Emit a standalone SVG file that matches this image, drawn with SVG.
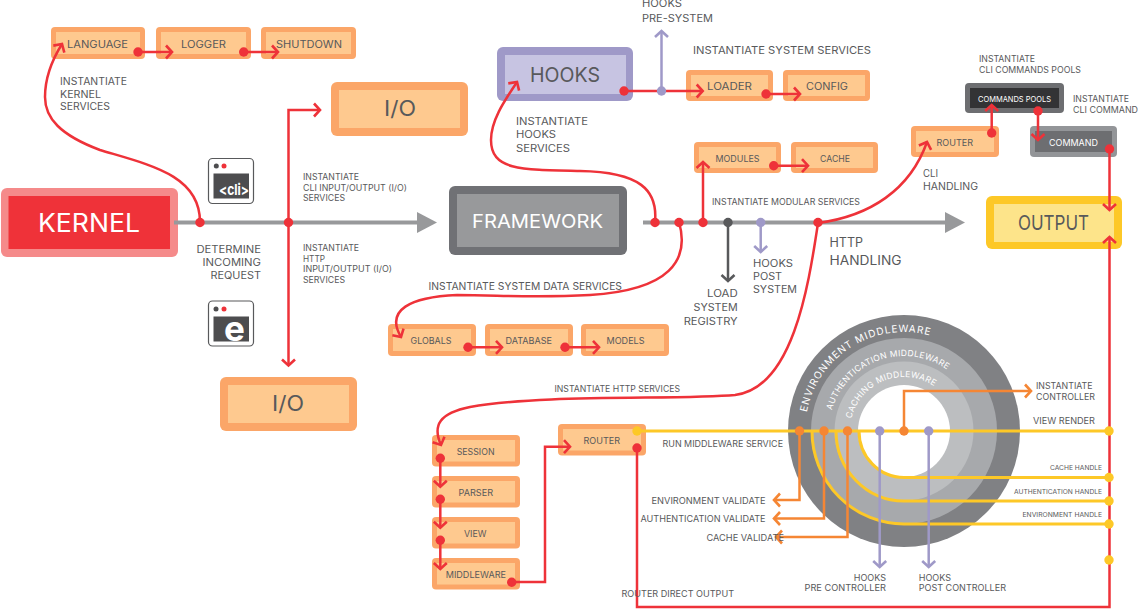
<svg xmlns="http://www.w3.org/2000/svg" width="1138" height="609" viewBox="0 0 1138 609">
<style>
text{font-family:"Inter","Liberation Sans",sans-serif;fill:#58595b;font-weight:400}
.s{font-size:10px}.m{font-size:8.500px}.x{font-size:6.600px}.b{font-size:10.500px}
.w{fill:#fff}
.o1{fill:#fba668}.o2{fill:#fec98f}
.main{fill:none;stroke:#98999b;stroke-width:4}
.r,.or,.pu,.dk,.ye{fill:none;stroke-width:2.5}
.r{stroke:#ee3239}.or{stroke:#f58634}.pu{stroke:#9f99c8}.dk{stroke:#58595b}.ye{stroke:#fdc827;stroke-width:3}
.mr{marker-end:url(#ar)}.mo{marker-end:url(#ao)}.mp{marker-end:url(#ap)}.md{marker-end:url(#ad)}
.dr{fill:#ee3239}.dy{fill:#fdc827}.dp{fill:#9f99c8}.dd{fill:#58595b}.do{fill:#f58634}
.arc{fill:#fff;font-size:10px}
</style>
<defs>
<marker id="ar" markerUnits="userSpaceOnUse" markerWidth="20" markerHeight="20" refX="10" refY="10" orient="auto" overflow="visible"><path d="M4,3.500L10,10L4,16.500" fill="none" stroke="#ee3239" stroke-width="2.600"/></marker>
<marker id="ao" markerUnits="userSpaceOnUse" markerWidth="20" markerHeight="20" refX="10" refY="10" orient="auto" overflow="visible"><path d="M4,3.500L10,10L4,16.500" fill="none" stroke="#f58634" stroke-width="2.600"/></marker>
<marker id="ap" markerUnits="userSpaceOnUse" markerWidth="20" markerHeight="20" refX="10" refY="10" orient="auto" overflow="visible"><path d="M4,3.500L10,10L4,16.500" fill="none" stroke="#9f99c8" stroke-width="2.600"/></marker>
<marker id="ad" markerUnits="userSpaceOnUse" markerWidth="20" markerHeight="20" refX="10" refY="10" orient="auto" overflow="visible"><path d="M4,3.500L10,10L4,16.500" fill="none" stroke="#58595b" stroke-width="2.600"/></marker>
<path id="pe" d="M805,431A99,99 0 1 1 1003,431"/>
<path id="pa" d="M829,431A75,75 0 1 1 979,431"/>
<path id="pc" d="M850,431A54,54 0 1 1 958,431"/>
</defs>

<g id="middleware-rings">
<circle cx="904" cy="431" r="116" fill="#808184"/>
<circle cx="904" cy="431" r="93" fill="#a7a9ac"/>
<circle cx="904" cy="431" r="69.500" fill="#bcbec0"/>
<circle cx="904" cy="431" r="46" fill="#fff"/>
<text class="arc" letter-spacing="0.900"><textPath href="#pe" startOffset="19">ENVIRONMENT MIDDLEWARE</textPath></text>
<text class="arc" style="font-size:8.500px" letter-spacing="0.350"><textPath href="#pa" startOffset="21">AUTHENTICATION MIDDLEWARE</textPath></text>
<text class="arc" style="font-size:8.500px" letter-spacing="0.350"><textPath href="#pc" startOffset="12.500">CACHING MIDDLEWARE</textPath></text>
</g>

<g id="kernel"><rect x="1" y="188" width="177" height="69" rx="6" fill="#f58a8a"/><rect x="8.500" y="196" width="161.500" height="53" fill="#ef3239"/><text x="38" y="232" class="w" style="font-size:25px" textLength="102" lengthAdjust="spacingAndGlyphs">KERNEL</text></g>
<g id="language"><rect class="o1" x="51" y="27" width="94" height="32" rx="4"/><rect class="o2" x="56" y="32" width="84" height="22"/><text class="s" x="67" y="48" textLength="61" lengthAdjust="spacingAndGlyphs">LANGUAGE</text></g>
<g id="logger"><rect class="o1" x="156" y="27" width="95" height="32" rx="4"/><rect class="o2" x="161" y="32" width="85" height="22"/><text class="s" x="181" y="48" textLength="45" lengthAdjust="spacingAndGlyphs">LOGGER</text></g>
<g id="shutdown"><rect class="o1" x="261" y="27" width="95" height="32" rx="4"/><rect class="o2" x="266" y="32" width="85" height="22"/><text class="s" x="276" y="48" textLength="66" lengthAdjust="spacingAndGlyphs">SHUTDOWN</text></g>
<g id="io-top"><rect class="o1" x="331" y="82" width="137" height="54" rx="6"/><rect class="o2" x="339" y="90" width="121" height="38"/><text x="384" y="116" style="font-size:21px" textLength="32" lengthAdjust="spacingAndGlyphs">I/O</text></g>
<g id="io-bottom"><rect class="o1" x="220" y="377" width="137" height="54" rx="6"/><rect class="o2" x="228" y="385" width="121" height="38"/><text x="272" y="410.500" style="font-size:21px" textLength="32" lengthAdjust="spacingAndGlyphs">I/O</text></g>
<g id="framework"><rect x="449" y="186" width="178" height="69" rx="6" fill="#707175"/><rect x="457" y="194" width="162" height="53" fill="#98999b"/><text x="472" y="228" class="w" style="font-size:19px" textLength="131" lengthAdjust="spacingAndGlyphs">FRAMEWORK</text></g>
<g id="hooks"><rect x="497" y="47" width="136" height="54" rx="6" fill="#9f99c8"/><rect x="505" y="55" width="121" height="39" fill="#c7c4e2"/><text x="530" y="82" style="font-size:20px" textLength="70" lengthAdjust="spacingAndGlyphs">HOOKS</text></g>
<g id="loader"><rect class="o1" x="686" y="70" width="87" height="31" rx="4"/><rect class="o2" x="691" y="75" width="77" height="21"/><text class="s" x="707" y="90" textLength="45" lengthAdjust="spacingAndGlyphs">LOADER</text></g>
<g id="config"><rect class="o1" x="783" y="70" width="87" height="31" rx="4"/><rect class="o2" x="788" y="75" width="77" height="21"/><text class="s" x="806" y="90" textLength="42" lengthAdjust="spacingAndGlyphs">CONFIG</text></g>
<g id="modules"><rect class="o1" x="694" y="142" width="87" height="31" rx="4"/><rect class="o2" x="699" y="147" width="77" height="21"/><text class="m" x="715.500" y="162" textLength="44" lengthAdjust="spacingAndGlyphs">MODULES</text></g>
<g id="cache"><rect class="o1" x="791" y="142" width="87" height="31" rx="4"/><rect class="o2" x="796" y="147" width="77" height="21"/><text class="m" x="820" y="162" textLength="30" lengthAdjust="spacingAndGlyphs">CACHE</text></g>
<g id="router-cli"><rect class="o1" x="911" y="126" width="88" height="31" rx="4"/><rect class="o2" x="916" y="131" width="78" height="21"/><text class="m" x="936.500" y="146" textLength="36.500" lengthAdjust="spacingAndGlyphs">ROUTER</text></g>
<g id="commands-pools"><rect x="965" y="83" width="99" height="30" rx="4" fill="#6d6e71"/><rect x="970" y="88" width="89" height="20" fill="#333335"/><text class="w m" x="978" y="102" style="font-size:8px" textLength="73" lengthAdjust="spacingAndGlyphs">COMMANDS POOLS</text></g>
<g id="command"><rect x="1030" y="126" width="87" height="31" rx="4" fill="#939598"/><rect x="1035" y="131" width="77" height="21" fill="#6d6e71"/><text class="w m" x="1049" y="146" textLength="49" lengthAdjust="spacingAndGlyphs">COMMAND</text></g>
<g id="output"><rect x="986" y="196" width="136" height="53" rx="6" fill="#fdc827"/><rect x="994" y="204" width="120" height="38" fill="#fde48a"/><text x="1018" y="230" style="font-size:20px" textLength="71" lengthAdjust="spacingAndGlyphs">OUTPUT</text></g>
<g id="globals"><rect class="o1" x="388" y="324" width="88" height="32" rx="4"/><rect class="o2" x="393" y="329" width="78" height="22"/><text class="m" x="410.500" y="344" textLength="41" lengthAdjust="spacingAndGlyphs">GLOBALS</text></g>
<g id="database"><rect class="o1" x="485" y="324" width="88" height="32" rx="4"/><rect class="o2" x="490" y="329" width="78" height="22"/><text class="m" x="505.500" y="344" textLength="46.500" lengthAdjust="spacingAndGlyphs">DATABASE</text></g>
<g id="models"><rect class="o1" x="581" y="324" width="88" height="32" rx="4"/><rect class="o2" x="586" y="329" width="78" height="22"/><text class="m" x="606.500" y="344" textLength="38" lengthAdjust="spacingAndGlyphs">MODELS</text></g>
<g id="session"><rect class="o1" x="432" y="435" width="88" height="31.500" rx="4"/><rect class="o2" x="437" y="440" width="78" height="21.500"/><text class="m" x="456.700" y="455" textLength="37.800" lengthAdjust="spacingAndGlyphs">SESSION</text></g>
<g id="parser"><rect class="o1" x="432" y="476" width="88" height="31.500" rx="4"/><rect class="o2" x="437" y="481" width="78" height="21.500"/><text class="m" x="458.500" y="496" textLength="34.500" lengthAdjust="spacingAndGlyphs">PARSER</text></g>
<g id="view"><rect class="o1" x="432" y="517" width="88" height="31.500" rx="4"/><rect class="o2" x="437" y="522" width="78" height="21.500"/><text class="m" x="464" y="537" textLength="22.500" lengthAdjust="spacingAndGlyphs">VIEW</text></g>
<g id="middleware"><rect class="o1" x="432" y="558" width="88" height="31.500" rx="4"/><rect class="o2" x="437" y="563" width="78" height="21.500"/><text class="m" x="445.700" y="578" textLength="60.300" lengthAdjust="spacingAndGlyphs">MIDDLEWARE</text></g>
<g id="router-http"><rect class="o1" x="558" y="424" width="88" height="31.500" rx="4"/><rect class="o2" x="563" y="429" width="78" height="21.500"/><text class="m" x="583.500" y="444" textLength="36.500" lengthAdjust="spacingAndGlyphs">ROUTER</text></g>

<g id="icon-cli"><rect x="208.500" y="158.500" width="45" height="45" rx="4" fill="#fff" stroke="#58595b" stroke-width="1.200"/><circle cx="216.300" cy="166" r="2.500" fill="#4d4d4f"/><circle cx="224" cy="166" r="2.500" fill="#ee3239"/><rect x="213.500" y="173.500" width="35.500" height="25" fill="#4d4d4f"/><text x="219" y="195" class="w" style="font-size:15px;font-weight:700" textLength="30" lengthAdjust="spacingAndGlyphs">&lt;cli&gt;</text></g>
<g id="icon-e"><rect x="208.500" y="301" width="45" height="45" rx="4" fill="#fff" stroke="#58595b" stroke-width="1.200"/><circle cx="216" cy="309" r="2.500" fill="#4d4d4f"/><circle cx="224" cy="309" r="2.500" fill="#ee3239"/><rect x="213.500" y="316.500" width="35.500" height="25" fill="#4d4d4f"/><text x="224" y="341" class="w" style="font-size:35px;font-weight:700">e</text></g>

<g id="connectors">
<path class="main" d="M174,222.500H420"/><path d="M417,212L437,222.500L417,233Z" fill="#98999b"/>
<path class="main" d="M643,222.500H948"/><path d="M945,212L965,222.500L945,233Z" fill="#98999b"/>
<path class="r mr" d="M200,222C200,175 150,165 100,150C60,135 45,118 45,97C45,78 52,60 62,44"/>
<path class="r mr" d="M138,52H172"/><path class="r mr" d="M243.700,52H278"/>
<path class="r mr" d="M288.500,222.500V110H320"/><path class="r mr" d="M288.500,222.500V365.500"/>
<path class="r mr" d="M655,222C658,190 640,172 580,171C520,170 491,170 491,140C491,120 505,100 517,82"/>
<path class="r mr" d="M624,91H702.700"/><path class="pu mp" d="M661.500,91V31"/>
<path class="r mr" d="M766,94H800"/>
<path class="r mr" d="M703,222.500V162"/><path class="r mr" d="M773.700,165.700H808"/>
<path class="r mr" d="M679,222C690,260 670,290 590,295C530,298 500,295 457,295C410,297 385,310 401,337"/>
<path class="r mr" d="M468,347.300H502"/><path class="r mr" d="M565,347.300H599"/>
<path class="dk md" d="M728,222.500V281"/><path class="pu mp" d="M760.700,222.500V252"/>
<path class="r mr" d="M818,223C870,216 910,190 927,142"/>
<path class="r mr" d="M991.700,133V105"/><path class="r mr" d="M1038,111V140"/>
<path class="r mr" d="M1109.500,149V210"/>
<path class="r mr" d="M637,448V607H1109.500V237"/>
<path class="r mr" d="M818,223C808,290 792,388 735,395C680,400 540,394 470,407C440,413 432,425 441,445"/>
<path class="r mr" d="M440.300,458.300V486.700"/><path class="r mr" d="M440.300,499.300V527.700"/><path class="r mr" d="M440.300,540.300V569"/>
<path class="r mr" d="M511.700,582H545V446.700H570"/>
<path class="ye" d="M637,431H1109"/>
<path class="ye" d="M859,431A45,46.500 0 0 0 904,477.500H1109"/>
<path class="ye" d="M836,431A68,70 0 0 0 904,501H1109"/>
<path class="ye" d="M812,431A92,93 0 0 0 904,524H1109"/>
<path class="or mo" d="M904,431V391H1031"/>
<path class="or mo" d="M799.500,431V500H774"/><path class="or mo" d="M824,431V518.500H774"/><path class="or mo" d="M847.500,431V537H776"/>
<path class="pu mp" d="M879.700,431V567"/><path class="pu mp" d="M928.700,431V567"/>
</g>

<g id="dots">
<g class="dr"><circle cx="200" cy="222.500" r="4.700"/><circle cx="288.500" cy="222.500" r="4.700"/><circle cx="138" cy="52" r="4.700"/><circle cx="243.700" cy="52" r="4.700"/><circle cx="624" cy="91" r="4.700"/><circle cx="766" cy="94" r="4.700"/><circle cx="655" cy="222.500" r="4.700"/><circle cx="679" cy="222.500" r="4.700"/><circle cx="703" cy="222.500" r="4.700"/><circle cx="818" cy="222.500" r="4.700"/><circle cx="773.700" cy="165.700" r="4.700"/><circle cx="991.700" cy="133" r="4.700"/><circle cx="1038" cy="111" r="4.700"/><circle cx="1109.500" cy="149" r="4.700"/><circle cx="468" cy="347.300" r="4.700"/><circle cx="565" cy="347.300" r="4.700"/><circle cx="440.300" cy="458.300" r="4.700"/><circle cx="440.300" cy="499.300" r="4.700"/><circle cx="440.300" cy="540.300" r="4.700"/><circle cx="511.700" cy="582.300" r="4.700"/><circle cx="637" cy="448" r="4.700"/></g>
<g class="dy"><circle cx="637" cy="431" r="4.700"/><circle cx="1109" cy="431" r="4.700"/><circle cx="1109" cy="477.500" r="4.700"/><circle cx="1109" cy="501" r="4.700"/><circle cx="1109" cy="524" r="4.700"/><circle cx="1109" cy="560" r="4.700"/></g>
<g class="do"><circle cx="799.500" cy="431" r="4.700"/><circle cx="824" cy="431" r="4.700"/><circle cx="847.500" cy="431" r="4.700"/><circle cx="904" cy="431" r="4.700"/></g>
<g class="dp"><circle cx="661.500" cy="91" r="4.700"/><circle cx="760.700" cy="222.500" r="4.700"/><circle cx="879.700" cy="431" r="4.700"/><circle cx="928.700" cy="431" r="4.700"/></g>
<circle class="dd" cx="728" cy="222.500" r="4.700"/>
</g>

<g id="labels">
<text class="s" x="60" y="85" textLength="67" lengthAdjust="spacingAndGlyphs">INSTANTIATE</text>
<text class="s" x="60" y="98" textLength="41" lengthAdjust="spacingAndGlyphs">KERNEL</text>
<text class="s" x="60" y="110" textLength="50" lengthAdjust="spacingAndGlyphs">SERVICES</text>
<text class="m" x="303" y="180" textLength="56" lengthAdjust="spacingAndGlyphs">INSTANTIATE</text>
<text class="m" x="303" y="191" textLength="104" lengthAdjust="spacingAndGlyphs">CLI INPUT/OUTPUT (I/O)</text>
<text class="m" x="303" y="201" textLength="42" lengthAdjust="spacingAndGlyphs">SERVICES</text>
<text class="s" x="196.500" y="253" textLength="64.500" lengthAdjust="spacingAndGlyphs">DETERMINE</text>
<text class="s" x="202.500" y="266" textLength="58.500" lengthAdjust="spacingAndGlyphs">INCOMING</text>
<text class="s" x="210.500" y="279" textLength="50.500" lengthAdjust="spacingAndGlyphs">REQUEST</text>
<text class="m" x="303" y="251" textLength="56" lengthAdjust="spacingAndGlyphs">INSTANTIATE</text>
<text class="m" x="303" y="262" textLength="22" lengthAdjust="spacingAndGlyphs">HTTP</text>
<text class="m" x="303" y="272" textLength="89" lengthAdjust="spacingAndGlyphs">INPUT/OUTPUT (I/O)</text>
<text class="m" x="303" y="283" textLength="42" lengthAdjust="spacingAndGlyphs">SERVICES</text>
<text class="s" x="516" y="124.500" textLength="72" lengthAdjust="spacingAndGlyphs">INSTANTIATE</text>
<text class="s" x="516" y="137.700" textLength="40" lengthAdjust="spacingAndGlyphs">HOOKS</text>
<text class="s" x="516" y="151.700" textLength="54" lengthAdjust="spacingAndGlyphs">SERVICES</text>
<text class="s" x="642" y="7" textLength="40" lengthAdjust="spacingAndGlyphs">HOOKS</text>
<text class="s" x="642" y="21.700" textLength="71" lengthAdjust="spacingAndGlyphs">PRE-SYSTEM</text>
<text class="b" x="693" y="53.500" textLength="178" lengthAdjust="spacingAndGlyphs">INSTANTIATE SYSTEM SERVICES</text>
<text class="m" x="712" y="204.500" textLength="148" lengthAdjust="spacingAndGlyphs">INSTANTIATE MODULAR SERVICES</text>
<text class="m" x="979" y="62" textLength="56" lengthAdjust="spacingAndGlyphs">INSTANTIATE</text>
<text class="m" x="979" y="73" textLength="102" lengthAdjust="spacingAndGlyphs">CLI COMMANDS POOLS</text>
<text class="m" x="1073" y="102" textLength="56" lengthAdjust="spacingAndGlyphs">INSTANTIATE</text>
<text class="m" x="1073" y="113" textLength="65" lengthAdjust="spacingAndGlyphs">CLI COMMAND</text>
<text class="s" x="923" y="176.700" textLength="15" lengthAdjust="spacingAndGlyphs">CLI</text>
<text class="s" x="923" y="190" textLength="55" lengthAdjust="spacingAndGlyphs">HANDLING</text>
<text class="b" x="829.500" y="247" style="font-size:12.500px" textLength="33.500" lengthAdjust="spacingAndGlyphs">HTTP</text>
<text class="b" x="829.500" y="264.500" style="font-size:12.500px" textLength="72" lengthAdjust="spacingAndGlyphs">HANDLING</text>
<text class="s" x="707" y="297" textLength="30.700" lengthAdjust="spacingAndGlyphs">LOAD</text>
<text class="s" x="693.500" y="311" textLength="44.200" lengthAdjust="spacingAndGlyphs">SYSTEM</text>
<text class="s" x="683.700" y="324.500" textLength="54" lengthAdjust="spacingAndGlyphs">REGISTRY</text>
<text class="s" x="753" y="266.700" textLength="40" lengthAdjust="spacingAndGlyphs">HOOKS</text>
<text class="s" x="753" y="280" textLength="29" lengthAdjust="spacingAndGlyphs">POST</text>
<text class="s" x="753" y="293" textLength="44" lengthAdjust="spacingAndGlyphs">SYSTEM</text>
<text class="b" x="428.500" y="290" textLength="193.500" lengthAdjust="spacingAndGlyphs">INSTANTIATE SYSTEM DATA SERVICES</text>
<text class="m" x="554.500" y="392.300" textLength="125.500" lengthAdjust="spacingAndGlyphs">INSTANTIATE HTTP SERVICES</text>
<text class="m" x="662.500" y="447" textLength="120.500" lengthAdjust="spacingAndGlyphs">RUN MIDDLEWARE SERVICE</text>
<text class="m" x="651.500" y="504" style="font-size:9px" textLength="114" lengthAdjust="spacingAndGlyphs">ENVIRONMENT VALIDATE</text>
<text class="m" x="640.500" y="522" style="font-size:9px" textLength="125" lengthAdjust="spacingAndGlyphs">AUTHENTICATION VALIDATE</text>
<text class="m" x="706.500" y="541" style="font-size:9px" textLength="77.500" lengthAdjust="spacingAndGlyphs">CACHE VALIDATE</text>
<text class="m" x="621.500" y="597" textLength="112.500" lengthAdjust="spacingAndGlyphs">ROUTER DIRECT OUTPUT</text>
<text class="m" x="1036" y="389" textLength="56.500" lengthAdjust="spacingAndGlyphs">INSTANTIATE</text>
<text class="m" x="1036" y="400" textLength="59" lengthAdjust="spacingAndGlyphs">CONTROLLER</text>
<text class="m" x="1033" y="423.500" textLength="62" lengthAdjust="spacingAndGlyphs">VIEW RENDER</text>
<text class="x" x="1050" y="470" textLength="52" lengthAdjust="spacingAndGlyphs">CACHE HANDLE</text>
<text class="x" x="1014" y="494" textLength="88" lengthAdjust="spacingAndGlyphs">AUTHENTICATION HANDLE</text>
<text class="x" x="1022.500" y="517" textLength="79.500" lengthAdjust="spacingAndGlyphs">ENVIRONMENT HANDLE</text>
<text class="m" x="853.700" y="581" textLength="32.300" lengthAdjust="spacingAndGlyphs">HOOKS</text>
<text class="m" x="804.500" y="591" textLength="81.500" lengthAdjust="spacingAndGlyphs">PRE CONTROLLER</text>
<text class="m" x="918.700" y="581" textLength="32.300" lengthAdjust="spacingAndGlyphs">HOOKS</text>
<text class="m" x="918.700" y="591" textLength="87.300" lengthAdjust="spacingAndGlyphs">POST CONTROLLER</text>
</g>
</svg>
